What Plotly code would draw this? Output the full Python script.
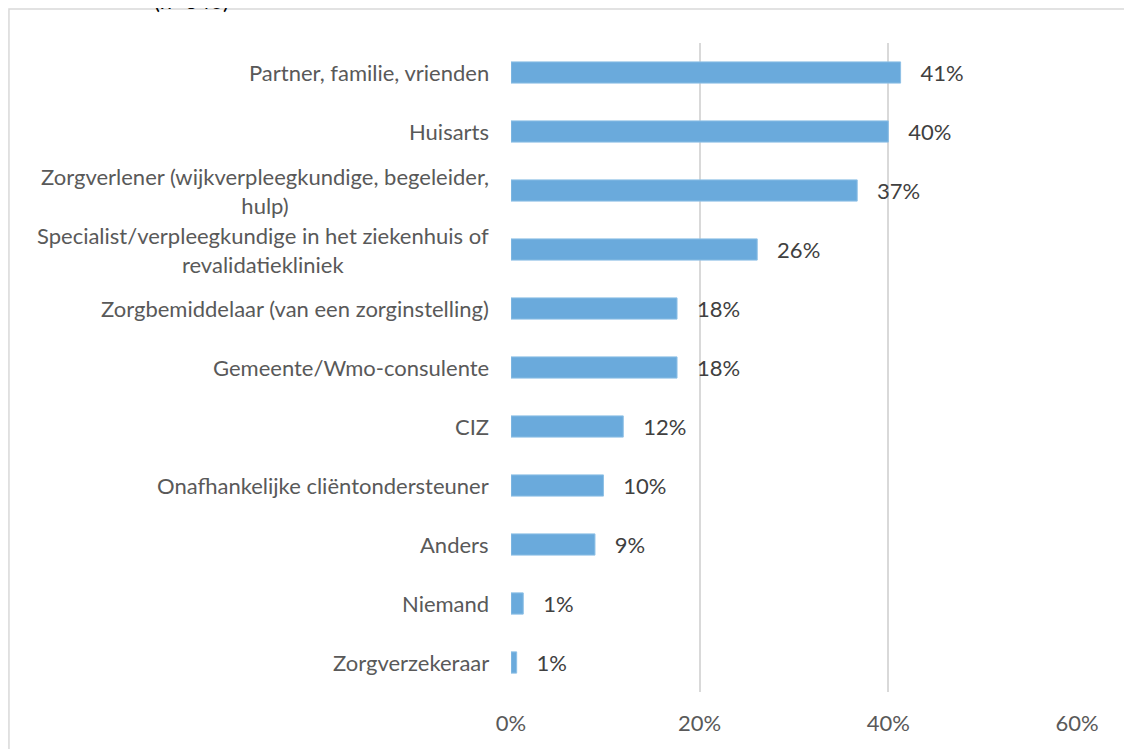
import plotly.graph_objects as go

categories = [
    "Partner, familie, vrienden",
    "Huisarts",
    "Zorgverlener (wijkverpleegkundige, begeleider,<br>hulp)",
    "Specialist/verpleegkundige in het ziekenhuis of<br>revalidatiekliniek",
    "Zorgbemiddelaar (van een zorginstelling)",
    "Gemeente/Wmo-consulente",
    "CIZ",
    "Onafhankelijke cliëntondersteuner",
    "Anders",
    "Niemand",
    "Zorgverzekeraar",
]
shares = [0.413, 0.400, 0.367, 0.261, 0.176, 0.176, 0.119, 0.098, 0.089, 0.013, 0.006]
tick_vals = [0, 0.2, 0.4, 0.6]
tick_text = ["0%", "20%", "40%", "60%"]

FONT = "Lato"
TXT = "#404040"
AXT = "#595959"
SIZE = 22

fig = go.Figure()
fig.add_trace(go.Bar(
    x=shares,
    y=categories,
    orientation="h",
    marker=dict(color="#6aaadc", line=dict(color="#8ec0e6", width=1)),
    text=shares,
    texttemplate="\u00a0\u00a0\u00a0%{x:.0%}",
    textposition="outside",
    constraintext="none",
    textfont=dict(family=FONT, size=SIZE, color=TXT),
    cliponaxis=False,
    hoverinfo="skip",
))

# category labels as annotations so wrapped lines are centred
for cat in categories:
    fig.add_annotation(
        x=0, xref="paper", y=cat, yref="y",
        text=cat, showarrow=False,
        xanchor="right", yanchor="middle", align="center",
        xshift=-20,
        font=dict(family=FONT, size=SIZE, color=AXT),
    )

# cut-off subtitle at the top
fig.add_annotation(
    x=-0.565, xref="paper", y=1.042, yref="paper",
    text="(n=640)", showarrow=False,
    xanchor="center", yanchor="bottom",
    font=dict(family=FONT, size=SIZE, color="#000000"),
)

# chart area border
fig.add_shape(
    type="rect", xref="paper", yref="paper",
    x0=-0.887, x1=1.12, y0=-0.12, y1=1.0524,
    line=dict(color="#d9d9d9", width=1.5),
    fillcolor="rgba(0,0,0,0)",
)

fig.update_layout(
    width=1132, height=749,
    margin=dict(l=503, r=63, t=35, b=65),
    plot_bgcolor="white", paper_bgcolor="white",
    showlegend=False,
    bargap=0.64,
    xaxis=dict(
        range=[0, 0.6],
        tickvals=tick_vals, ticktext=tick_text,
        showgrid=True, gridcolor="#d9d9d9", gridwidth=1.5,
        zeroline=False, showline=False,
        ticks="", ticklabelstandoff=16,
        tickfont=dict(family=FONT, size=SIZE, color=AXT),
    ),
    yaxis=dict(
        categoryorder="array", categoryarray=categories,
        autorange="reversed",
        showticklabels=False, showgrid=False, zeroline=False, ticks="",
    ),
)

fig.write_html("out.html")
